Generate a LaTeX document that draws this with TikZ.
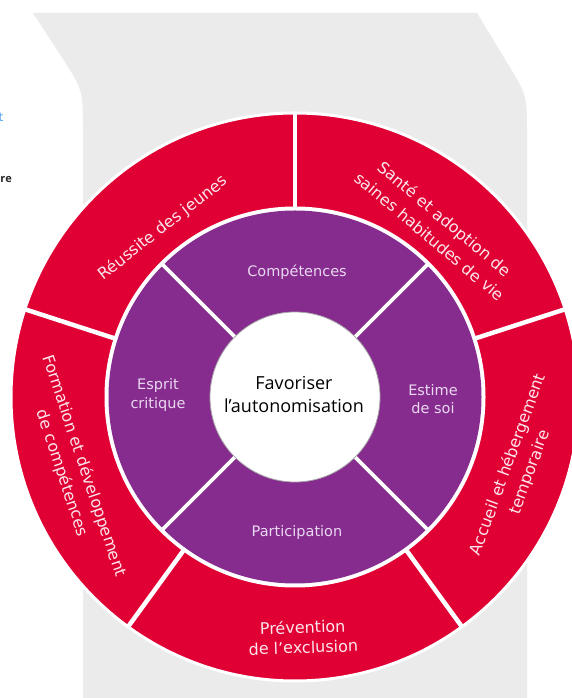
\documentclass[tikz,border=0pt]{standalone}
\usepackage{fontspec}
\setmainfont{DejaVu Sans}
\newfontfamily\ctrfont{Open Sans}
\definecolor{bggray}{RGB}{235,235,235}
\definecolor{ringred}{RGB}{225,0,52}
\definecolor{ringpurple}{RGB}{134,44,143}
\definecolor{redtext}{RGB}{252,230,236}
\definecolor{purtext}{RGB}{234,216,240}
\definecolor{fragblue}{RGB}{80,160,235}
\begin{document}
\begin{tikzpicture}[x=1pt,y=1pt,
  redtxt/.style={text=redtext, font=\fontsize{16}{20}\selectfont, align=center, inner sep=0pt},
  redtxtwide/.style={text=redtext, font=\fontsize{16}{23}\selectfont, align=center, inner sep=0pt},
  purtxt/.style={text=purtext, font=\fontsize{14.5}{18.5}\selectfont, align=center, inner sep=0pt},
  redsep/.style={draw=white, line width=4.5pt},
  pursep/.style={draw=white, line width=3.8pt},
  ]
\useasboundingbox (0,0) rectangle (572,698);
\clip (0,0) rectangle (572,698);
\fill[white] (0,0) rectangle (572,698);
% gray background panel
\fill[bggray] (33,685) -- (477,685) -- (506,637) .. controls (527,603) .. (527,563)
  -- (527,-10) -- (83,-10) -- (83,568) .. controls (83,608) .. (61,642) -- cycle;
% text fragments at the left edge
\node[anchor=east, text=fragblue, font=\fontsize{12}{14}\selectfont, inner sep=0pt] (fragA) at (3.5,581) {t};
\node[anchor=west, text=black!85, font=\ctrfont\bfseries\fontsize{11}{13}\selectfont, inner sep=0pt] (fragB) at (0.3,518) {re};
% wheel
\coordinate (C) at (295,301);
\filldraw[fill=ringred, draw=white, line width=3pt] (C) circle[radius=284];
\fill[white] (C) circle[radius=190.5];
\fill[ringpurple] (C) circle[radius=186.5];
\foreach \a in {18,90,162,234,306}
  \draw[redsep, shift={(C)}] (\a:187) -- (\a:284.5);
\foreach \a in {45,135,225,315}
  \draw[pursep, shift={(C)}] (\a:80) -- (\a:188);
\node[circle, fill=white, draw=black!35, line width=0.8pt, minimum size=170pt, inner sep=0pt] (core) at (C) {};
\node[font=\ctrfont\fontsize{18}{23}\selectfont, align=center, text=black] (coretext) at (294,304) {Favoriser\\l’autonomisation};
% purple ring labels
\node[purtxt] (comp) at (297,426) {Compétences};
\node[purtxt] (estime) at (433,299) {Estime\\de soi};
\node[purtxt] (part) at (297,165) {Participation};
\node[purtxt] (esprit) at (158,303) {Esprit\\critique};
% red ring labels
\node[redtxt, rotate=38] (reussite) at (163,470) {Réussite des jeunes};
\node[redtxtwide, rotate=-40] (sante) at (437.3,470.5) {Santé et adoption de\\saines habitudes de vie};
\node[redtxtwide, rotate=70] (accueil) at (519,229.4) {Accueil et hébergement\\temporaire};
\node[redtxt, rotate=2] (prevention) at (303,61) {Prévention\\de l’exclusion};
\node[redtxtwide, rotate=-71.5] (formation) at (73,228.4) {Formation et développement\\de compétences};
\end{tikzpicture}
\end{document}
